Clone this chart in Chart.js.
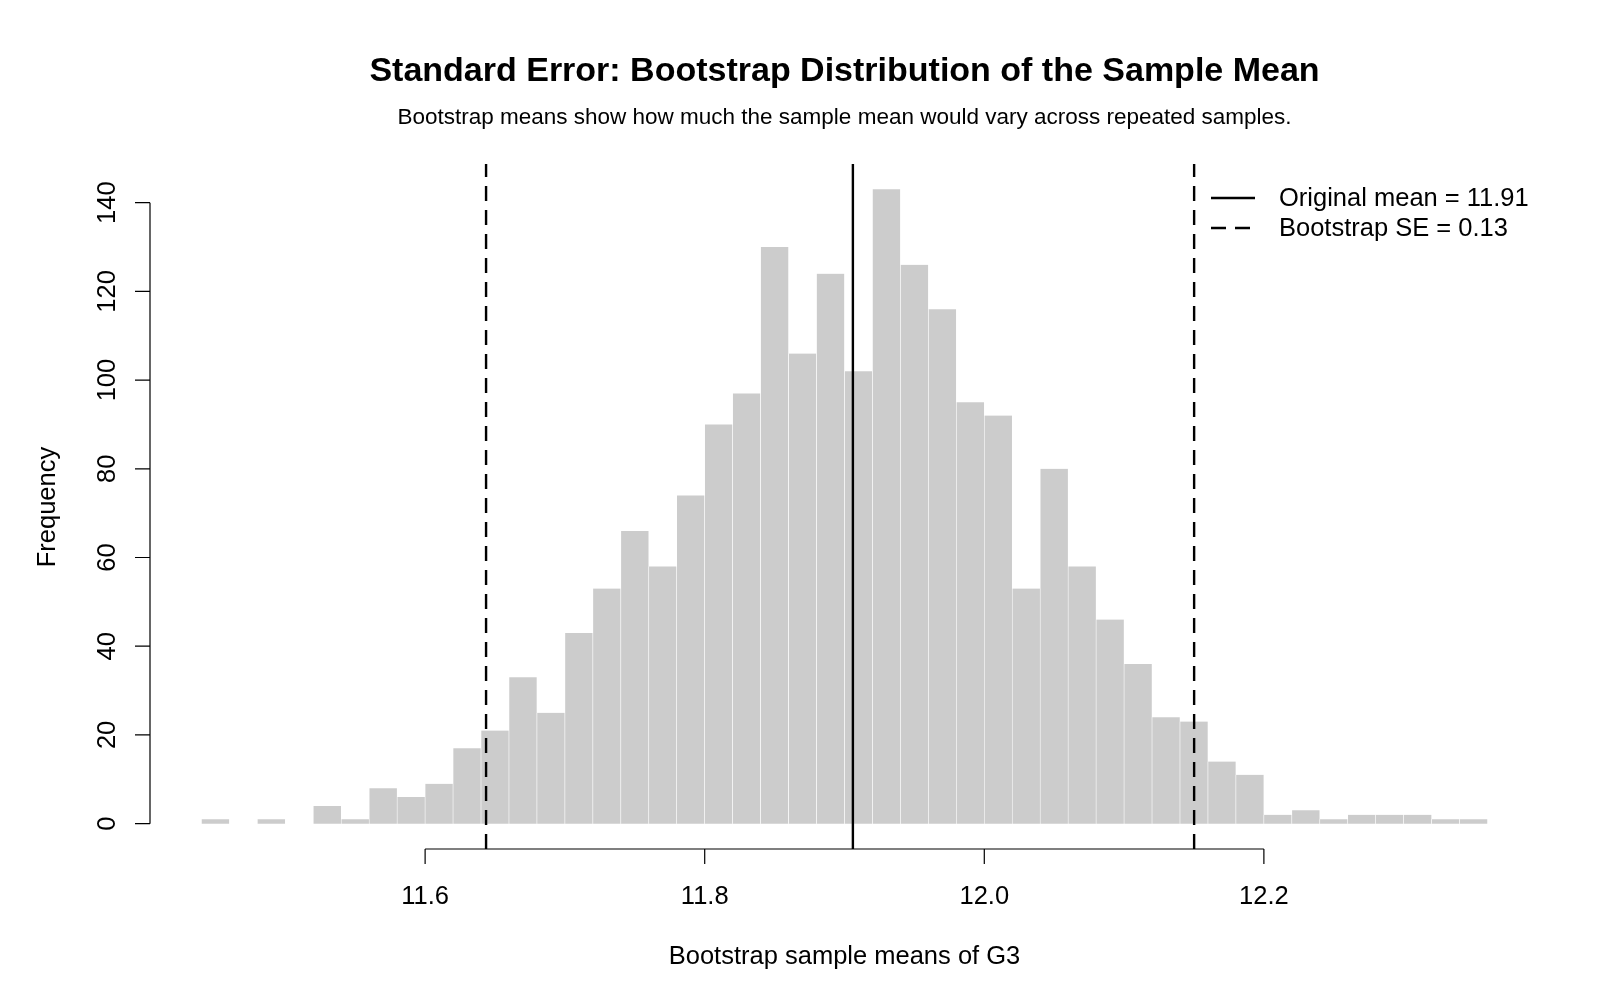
<!DOCTYPE html>
<html>
<head>
<meta charset="utf-8">
<script src="https://cdn.jsdelivr.net/npm/chart.js@4/dist/chart.umd.min.js"></script>
<style>
  html, body { margin: 0; padding: 0; background: #fff; }
  #wrap { width: 1600px; height: 1000px; }
</style>
</head>
<body>
<div id="wrap"><canvas id="chart" width="1600" height="1000"></canvas></div>
<script>
// bin lower edges (width 0.02) and counts of bootstrap means
const binWidth = 0.02
const binLower = [
  11.44, 11.46, 11.48, 11.50, 11.52, 11.54, 11.56, 11.58, 11.60, 11.62,
  11.64, 11.66, 11.68, 11.70, 11.72, 11.74, 11.76, 11.78, 11.80, 11.82,
  11.84, 11.86, 11.88, 11.90, 11.92, 11.94, 11.96, 11.98, 12.00, 12.02,
  12.04, 12.06, 12.08, 12.10, 12.12, 12.14, 12.16, 12.18, 12.20, 12.22,
  12.24, 12.26, 12.28, 12.30, 12.32, 12.34
]
const counts = [
  1, 0, 1, 0, 4, 1, 8, 6, 9, 17,
  21, 33, 25, 43, 53, 66, 58, 74, 90, 97,
  130, 106, 124, 102, 143, 126, 116, 95, 92, 53,
  80, 58, 46, 36, 24, 23, 14, 11, 2, 3,
  1, 2, 2, 2, 1, 1
]
// reference lines: original mean and the dashed interval bounds
const originalMean = 11.906
const intervalBounds = [11.6436, 12.1501]
const xTicks = [11.6, 11.8, 12.0, 12.2]
const yTicks = [0, 20, 40, 60, 80, 100, 120, 140]

const xMin = 11.4032, xMax = 12.3968
const yMin = -5.72, yMax = 148.72

const FONT = '"Liberation Sans", Arial, sans-serif'

const rPlot = {
    id: 'rPlot',
    afterDraw(chart) {
        const ctx = chart.ctx
        const xs = chart.scales.x, ys = chart.scales.y
        const area = chart.chartArea
        const cx = (area.left + area.right) / 2
        ctx.save()
        ctx.fillStyle = '#000'
        ctx.strokeStyle = '#000'
        ctx.textAlign = 'center'
        ctx.textBaseline = 'middle'

        // titles
        ctx.font = 'bold 34px ' + FONT
        ctx.fillText('Standard Error: Bootstrap Distribution of the Sample Mean', cx, 72)
        ctx.font = '22.5px ' + FONT
        ctx.fillText('Bootstrap means show how much the sample mean would vary across repeated samples.', cx, 118)

        // x axis
        ctx.lineWidth = 1.2
        const axY = 849
        ctx.beginPath()
        ctx.moveTo(xs.getPixelForValue(xTicks[0]), axY)
        ctx.lineTo(xs.getPixelForValue(xTicks[xTicks.length - 1]), axY)
        xTicks.forEach(t => {
            const px = xs.getPixelForValue(t)
            ctx.moveTo(px, axY)
            ctx.lineTo(px, axY + 15)
        })
        ctx.stroke()
        ctx.font = '25.5px ' + FONT
        xTicks.forEach(t => {
            ctx.fillText(t.toFixed(1), xs.getPixelForValue(t), 897)
        })

        // y axis
        const axX = 150
        ctx.beginPath()
        ctx.moveTo(axX, ys.getPixelForValue(yTicks[0]))
        ctx.lineTo(axX, ys.getPixelForValue(yTicks[yTicks.length - 1]))
        yTicks.forEach(t => {
            const py = ys.getPixelForValue(t)
            ctx.moveTo(axX, py)
            ctx.lineTo(axX - 15, py)
        })
        ctx.stroke()
        yTicks.forEach(t => {
            ctx.save()
            ctx.translate(108, ys.getPixelForValue(t))
            ctx.rotate(-Math.PI / 2)
            ctx.fillText(String(t), 0, 0)
            ctx.restore()
        })

        // axis titles
        ctx.fillText('Bootstrap sample means of G3', cx, 957)
        ctx.save()
        ctx.translate(48, 507)
        ctx.rotate(-Math.PI / 2)
        ctx.fillText('Frequency', 0, 0)
        ctx.restore()

        // legend
        ctx.textAlign = 'left'
        ctx.lineWidth = 2.5
        const rows = [
            { label: 'Original mean = 11.91', dash: [] },
            { label: 'Bootstrap SE = 0.13', dash: [15, 9] }
        ]
        rows.forEach((r, i) => {
            const y = 198 + i * 30
            ctx.setLineDash(r.dash)
            ctx.beginPath()
            ctx.moveTo(1211, y)
            ctx.lineTo(1255, y)
            ctx.stroke()
            ctx.setLineDash([])
            ctx.fillText(r.label, 1279, y + 1)
        })
        ctx.restore()
    }
}

const barData = binLower.map((b, i) => ({ x: b + binWidth / 2, y: counts[i] }))
const vline = x => [{ x: x, y: yMin }, { x: x, y: yMax }]
const lineStyle = { borderColor: '#000', borderWidth: 2.4, pointRadius: 0, order: 1 }

new Chart(document.getElementById('chart').getContext('2d'), {
    type: 'bar',
    data: {
        datasets: [
            {
                type: 'bar',
                label: 'Bootstrap means',
                data: barData,
                backgroundColor: '#cccccc',
                borderColor: '#ffffff',
                borderWidth: { left: 0.6, right: 0.6, top: 0, bottom: 0 },
                barPercentage: 1,
                categoryPercentage: 1,
                order: 2
            },
            { type: 'line', label: 'Original mean', data: vline(originalMean), ...lineStyle },
            { type: 'line', label: 'Lower', data: vline(intervalBounds[0]), borderDash: [15, 9], ...lineStyle },
            { type: 'line', label: 'Upper', data: vline(intervalBounds[1]), borderDash: [15, 9], ...lineStyle }
        ]
    },
    options: {
        responsive: false,
        animation: false,
        devicePixelRatio: 1,
        layout: { padding: { left: 150, right: 61, top: 164, bottom: 151 } },
        plugins: {
            legend: { display: false },
            title: { display: false },
            tooltip: { enabled: false }
        },
        scales: {
            x: { type: 'linear', min: xMin, max: xMax, offset: false, display: false },
            y: { type: 'linear', min: yMin, max: yMax, display: false }
        }
    },
    plugins: [rPlot]
})
</script>
</body>
</html>
